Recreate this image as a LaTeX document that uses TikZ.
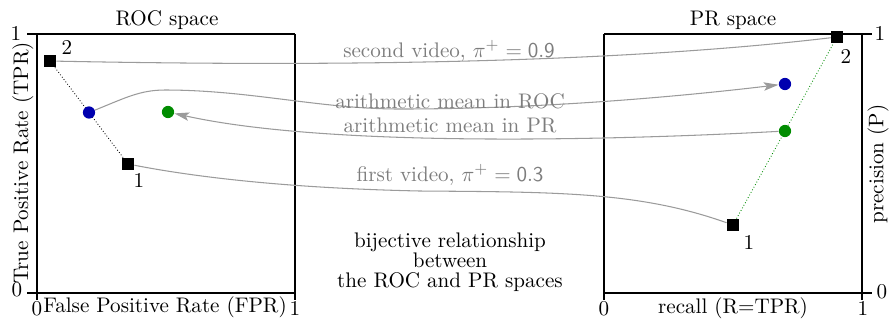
\documentclass[tikz,border=0pt]{standalone}
\usetikzlibrary{arrows.meta,backgrounds}
\definecolor{meanblue}{RGB}{0,0,175}
\definecolor{meangreen}{RGB}{0,140,0}
\definecolor{linkgray}{RGB}{155,155,155}
\definecolor{labelgray}{RGB}{125,125,125}
\begin{document}
\begin{tikzpicture}[x=0.474pt,y=-0.474pt,
  axisline/.style={line width=0.5pt},
  sqpoint/.style={rectangle,fill=black,inner sep=0pt,minimum size=5.7pt},
  meanpoint/.style={circle,inner sep=0pt,minimum size=5.8pt},
  link/.style={draw=linkgray,line width=0.5pt},
  linklabel/.style={text=labelgray,anchor=base},
  arrowtip/.style={-{Stealth[length=7pt,width=4pt,inset=1.5pt]}}
]
\useasboundingbox (0,0) rectangle (889,321);

% ROC axes (lines overhang to act as ticks)
\draw[axisline] (27,34) -- (295,34);
\draw[axisline] (27,293) -- (295,293);
\draw[axisline] (37,34) -- (37,300);
\draw[axisline] (295,34) -- (295,300);
% PR axes
\draw[axisline] (604,34) -- (872,34);
\draw[axisline] (604,293) -- (872,293);
\draw[axisline] (604,34) -- (604,300);
\draw[axisline] (862,34) -- (862,300);

% tick labels
\node (rocyone) at (16,33.5) {1};
\node (rocyzero) at (17,290) {0};
\node[anchor=base] (rocxzero) at (37,315) {0};
\node[anchor=base] (rocxone) at (295,315) {1};
\node (pryone) at (880,33.5) {1};
\node (pryzero) at (882,292) {0};
\node[anchor=base] (prxzero) at (604,315) {0};
\node[anchor=base] (prxone) at (863,315) {1};

% titles and axis labels
\node[anchor=base] (roctitle) at (167,25) {ROC space};
\node[anchor=base] (prtitle) at (733,25) {PR space};
\node[anchor=base] (fprlabel) at (165,312) {False Positive Rate (FPR)};
\node[anchor=base] (recalllabel) at (733,313) {recall (R=TPR)};
\node[rotate=90,anchor=base] (tprlabel) at (28,163) {True Positive Rate (TPR)};
\node[rotate=90] (preclabel) at (878,164) {precision (P)};

% points in ROC space
\node[sqpoint] (rocA) at (128,164) {};
\node[sqpoint] (rocB) at (50,61) {};
\node[meanpoint,fill=meanblue] (rocmeanroc) at (89,112.5) {};
\node[meanpoint,fill=meangreen] (rocmeanpr) at (168,112) {};
\node (rocAlab) at (139,180) {1};
\node (rocBlab) at (67,47) {2};

% points in PR space
\node[sqpoint] (prA) at (733,225) {};
\node[sqpoint] (prB) at (837,37) {};
\node[meanpoint,fill=meanblue] (prmeanroc) at (785,84) {};
\node[meanpoint,fill=meangreen] (prmeanpr) at (785,131) {};
\node (prAlab) at (749,242) {1};
\node (prBlab) at (846,56) {2};

% segments between the two videos
\begin{scope}[on background layer]
  \draw[densely dotted] (rocB) -- (rocA);
  \draw[densely dotted,meangreen] (prA) -- (prB);
\end{scope}

% mappings between the spaces
\draw[link] (rocB) .. controls (300,66) and (600,65) .. (prB);
\draw[link,arrowtip] (rocmeanroc) .. controls (125,98) and (140,90) .. (165,90)
  .. controls (250,90) and (320,109) .. (400,109)
  .. controls (520,109) and (650,100) .. (prmeanroc);
\draw[link,arrowtip] (prmeanpr) .. controls (620,140) and (330,148) .. (rocmeanpr);
\draw[link] (rocA) .. controls (190,176) and (280,188) .. (420,191)
  .. controls (560,192) and (640,192) .. (prA);

\node[linklabel] (secondlab) at (449,57) {second video, $\pi^+=\mathsf{0.9}$};
\node[linklabel] (meanroclab) at (450,108) {arithmetic mean in ROC};
\node[linklabel] (meanprlab) at (450,132) {arithmetic mean in PR};
\node[linklabel] (firstlab) at (450,181) {first video, $\pi^+=\mathsf{0.3}$};

\node[align=center,font=\fontsize{10pt}{9.5pt}\selectfont] (bijection) at (450,262)
  {bijective relationship\\between\\the ROC and PR spaces};
\end{tikzpicture}
\end{document}
